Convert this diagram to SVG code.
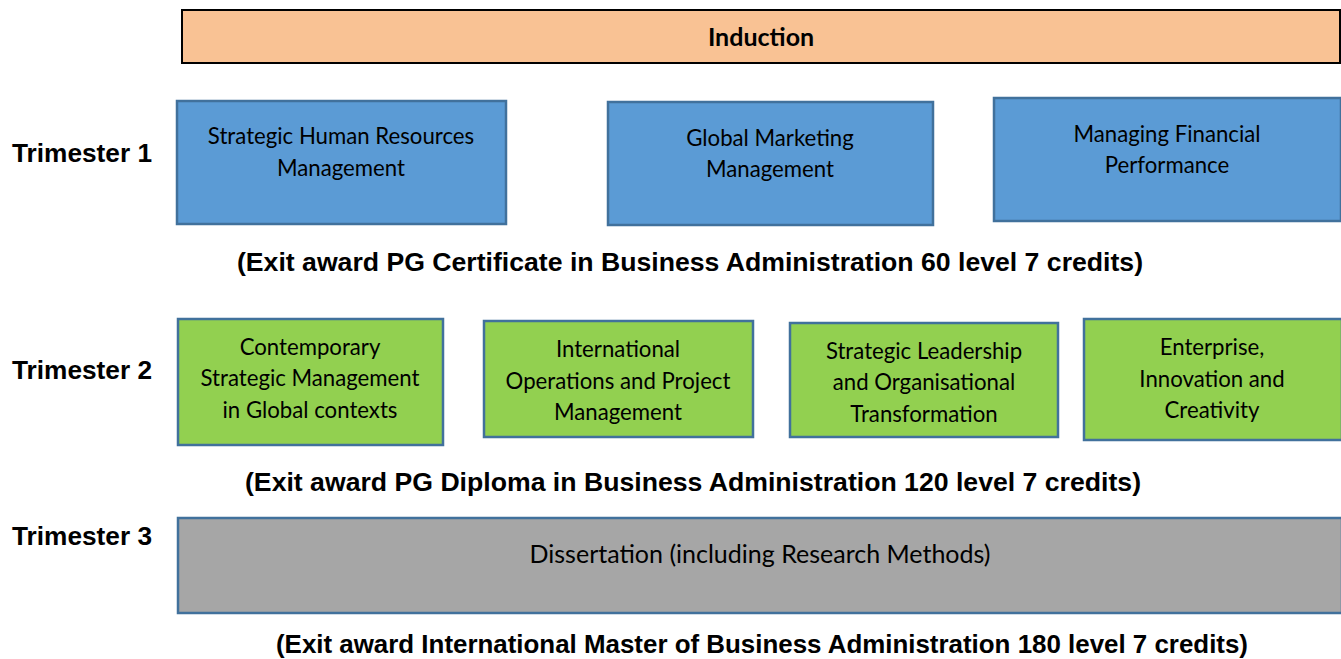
<svg xmlns="http://www.w3.org/2000/svg" width="1341" height="659" viewBox="0 0 1341 659">
<style>
  .lbl { font-family: "Liberation Sans", Arial, sans-serif; font-weight: bold; font-size: 25.5px; fill: #000; }
  .exit { font-family: "Liberation Sans", Arial, sans-serif; font-weight: bold; font-size: 26.5px; fill: #000; text-anchor: middle; }
  .bt { font-family: Lato, "Open Sans", sans-serif; font-size: 22.2px; fill: #000; text-anchor: middle; }
  .big { font-size: 25px; }
  .ind { fill: #F9C294; stroke: #000; stroke-width: 2; }
  .blue { fill: #5B9BD5; stroke: #41719C; stroke-width: 2.5; }
  .green { fill: #92D050; stroke: #41719C; stroke-width: 2.5; }
  .gray { fill: #A6A6A6; stroke: #41719C; stroke-width: 2.5; }
</style>
<rect width="1341" height="659" fill="#fff"/>
<g id="induction">
  <rect class="ind" x="182" y="10" width="1158" height="53"/>
  <text class="bt big" x="761" y="46" font-weight="bold">Induction</text>
</g>
<g id="labels">
  <text class="lbl" x="12" y="162" textLength="140" lengthAdjust="spacingAndGlyphs">Trimester 1</text>
  <text class="lbl" x="12" y="379" textLength="140" lengthAdjust="spacingAndGlyphs">Trimester 2</text>
  <text class="lbl" x="12" y="545" textLength="140" lengthAdjust="spacingAndGlyphs">Trimester 3</text>
</g>
<g id="t1-shrm">
  <rect class="blue" x="177" y="101" width="329" height="123"/>
  <text class="bt" x="341" y="144">Strategic Human Resources</text>
  <text class="bt" x="341" y="176">Management</text>
</g>
<g id="t1-gmm">
  <rect class="blue" x="608" y="102" width="325" height="123"/>
  <text class="bt" x="770" y="146">Global Marketing</text>
  <text class="bt" x="770" y="177">Management</text>
</g>
<g id="t1-mfp">
  <rect class="blue" x="994" y="98" width="347" height="123"/>
  <text class="bt" x="1167" y="142">Managing Financial</text>
  <text class="bt" x="1167" y="173">Performance</text>
</g>
<g id="exit1">
  <text class="exit" x="690" y="271" textLength="906" lengthAdjust="spacingAndGlyphs">(Exit award PG Certificate in Business Administration 60 level 7 credits)</text>
</g>
<g id="t2-csm">
  <rect class="green" x="178" y="319" width="265" height="126"/>
  <text class="bt" x="310" y="355">Contemporary</text>
  <text class="bt" x="310" y="386">Strategic Management</text>
  <text class="bt" x="310" y="418">in Global contexts</text>
</g>
<g id="t2-iopm">
  <rect class="green" x="484" y="321" width="269" height="116"/>
  <text class="bt" x="618" y="357">International</text>
  <text class="bt" x="618" y="389">Operations and Project</text>
  <text class="bt" x="618" y="420">Management</text>
</g>
<g id="t2-slot">
  <rect class="green" x="790" y="323" width="268" height="114"/>
  <text class="bt" x="924" y="359">Strategic Leadership</text>
  <text class="bt" x="924" y="390">and Organisational</text>
  <text class="bt" x="924" y="422">Transformation</text>
</g>
<g id="t2-eic">
  <rect class="green" x="1084" y="319" width="258" height="121"/>
  <text class="bt" x="1212" y="355">Enterprise,</text>
  <text class="bt" x="1212" y="387">Innovation and</text>
  <text class="bt" x="1212" y="418">Creativity</text>
</g>
<g id="exit2">
  <text class="exit" x="693" y="491" textLength="896" lengthAdjust="spacingAndGlyphs">(Exit award PG Diploma in Business Administration 120 level 7 credits)</text>
</g>
<g id="t3-diss">
  <rect class="gray" x="178" y="518" width="1164" height="95"/>
  <text class="bt big" x="760" y="563">Dissertation (including Research Methods)</text>
</g>
<g id="exit3">
  <text class="exit" x="762" y="653" textLength="972" lengthAdjust="spacingAndGlyphs">(Exit award International Master of Business Administration 180 level 7 credits)</text>
</g>
<g id="connectors"></g>
</svg>
